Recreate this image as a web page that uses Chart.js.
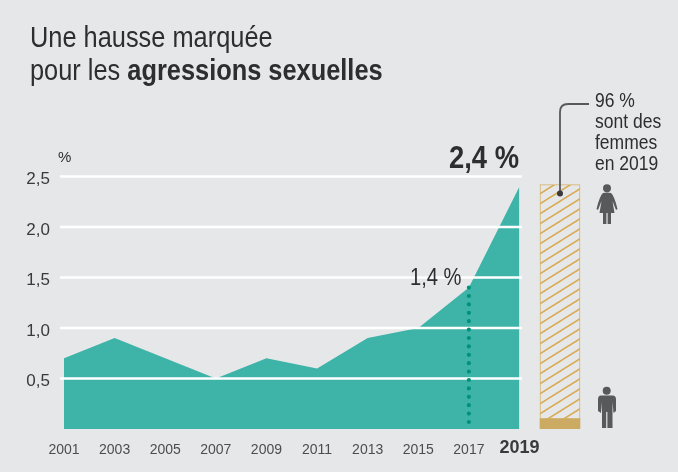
<!DOCTYPE html>
<html lang="fr">
<head>
<meta charset="utf-8">
<script src="https://cdn.jsdelivr.net/npm/chart.js@4/dist/chart.umd.min.js"></script>
<style>
  html, body { margin: 0; padding: 0; background: #e6e7e9; }
  #page { position: relative; width: 678px; height: 472px; overflow: hidden; font-family: "Liberation Sans", Arial, sans-serif; color: #2e2e30; }
  canvas { position: absolute; top: 0; }
  .txt { position: absolute; white-space: nowrap; transform-origin: left top; transform: scaleX(0.875); }
  svg { position: absolute; left: 0; top: 0; }
</style>
</head>
<body>
<div id="page">
  <canvas id="areaChart" width="678" height="472" style="left:0"></canvas>
  <canvas id="barChart" width="60" height="472" style="left:530px"></canvas>
  <svg width="678" height="472">
    <path d="M589 104 H568 Q560 104 560 112 V193" fill="none" stroke="#58595b" stroke-width="1.8"/>
    <circle cx="560" cy="193.5" r="3" fill="#3a3a3c"/>
    <!-- femme -->
    <g fill="#58595b">
      <circle cx="607" cy="188.3" r="4"/>
      <path d="M603 193 Q607 192 611 193 Q614 195 617.5 209 L616 210 L612.5 201 L614.5 213 H611 V224 H607.6 V213 H606.4 V224 H603 V213 H599.5 L601.5 201 L598 210 L596.5 209 Q600 195 603 193 Z"/>
    </g>
    <!-- homme -->
    <g fill="#58595b">
      <circle cx="606.7" cy="390.7" r="4"/>
      <path d="M601 395.5 H612.5 Q616 395.5 616 399.5 V411 L613.5 413 L612.5 402 V428 H607.4 V412 H606.2 V428 H602 V402 L601 413 L598 411 V399.5 Q598 395.5 601 395.5 Z"/>
    </g>
  </svg>
  <div class="txt" style="left:30px;top:21px;font-size:29px;line-height:33px">Une hausse marquée<br>pour les <b>agressions sexuelles</b></div>
  <div class="txt" style="left:58px;top:148px;font-size:15px;transform:none">%</div>
  <div class="txt" style="left:449px;top:138.5px;font-size:32px;font-weight:bold;transform:scaleX(0.855)">2,4 %</div>
  <div class="txt" style="left:410px;top:264px;font-size:23px">1,4 %</div>
  <div class="txt" style="left:595px;top:90px;font-size:20px;line-height:21px">96 %<br>sont des<br>femmes<br>en 2019</div>
</div>
<script>
// donnees
var years = ["2001", "2003", "2005", "2007", "2009", "2011", "2013", "2015", "2017", "2019"];
var rates = [0.7, 0.9, 0.7, 0.5, 0.7, 0.6, 0.9, 1.0, 1.4, 2.4];
var yTicks = [0.5, 1.0, 1.5, 2.0, 2.5];
var dottedYear = "2017";
var dottedValue = 1.4;
var barLabels = ["2019"];
var menPart = [0.1];
var womenPart = [2.32];

var bg = "#e6e7e9";
var teal = "#3eb4a9";
var gold = "#cdaa62";

// lignes blanches par-dessus l'aire + pointilles de 2017
var overlay = {
  id: "overlay",
  afterDatasetsDraw: function (chart) {
    var c = chart.ctx, y = chart.scales.y, x = chart.scales.x, a = chart.chartArea;
    c.save();
    c.strokeStyle = "#fff";
    c.lineWidth = 2.4;
    yTicks.forEach(function (t) {
      var py = y.getPixelForValue(t);
      c.beginPath();
      c.moveTo(a.left - 4, py);
      c.lineTo(a.right + 2.5, py);
      c.stroke();
    });
    var px = x.getPixelForValue(years.indexOf(dottedYear));
    c.strokeStyle = "#00907c";
    c.lineWidth = 4.2;
    c.lineCap = "round";
    c.setLineDash([0, 8.4]);
    c.beginPath();
    c.moveTo(px, y.getPixelForValue(dottedValue));
    c.lineTo(px, y.getPixelForValue(0));
    c.stroke();
    c.restore();
  }
};

new Chart(document.getElementById("areaChart").getContext("2d"), {
  type: "line",
  data: {
    labels: years,
    datasets: [{
      data: rates,
      fill: "origin",
      backgroundColor: teal,
      borderWidth: 0,
      pointRadius: 0,
      tension: 0
    }]
  },
  options: {
    responsive: false,
    animation: false,
    layout: { padding: { left: 0, right: 158.5, top: 176.5, bottom: 0 } },
    plugins: { legend: { display: false }, tooltip: { enabled: false } },
    scales: {
      x: {
        afterFit: function (s) { s.height = 43; },
        grid: { display: false, drawTicks: false },
        border: { display: false },
        ticks: {
          autoSkip: false,
          maxRotation: 0,
          crossAlign: "center",
          padding: 19,
          color: function (ctx) { return ctx.index === 9 ? "#3a3a3c" : "#4d4d4f"; },
          font: function (ctx) {
            return ctx.index === 9
              ? { family: "Liberation Sans", size: 18, weight: "bold" }
              : { family: "Liberation Sans", size: 14 };
          }
        }
      },
      y: {
        min: 0,
        max: 2.5,
        afterFit: function (s) { s.width = 64; },
        afterBuildTicks: function (s) { s.ticks = yTicks.map(function (v) { return { value: v }; }); },
        grid: { display: false, drawTicks: false },
        border: { display: false },
        ticks: {
          padding: 14,
          labelOffset: 3,
          color: "#3a3a3c",
          font: { family: "Liberation Sans", size: 17 },
          callback: function (v) { return v.toFixed(1).replace(".", ","); }
        }
      }
    }
  },
  plugins: [overlay]
});

// motif hachure de la barre
function hatch() {
  var t = document.createElement("canvas");
  t.width = 16;
  t.height = 10;
  var c = t.getContext("2d");
  c.fillStyle = bg;
  c.fillRect(0, 0, 16, 10);
  c.strokeStyle = "#d8ab52";
  c.lineWidth = 1.5;
  c.beginPath();
  c.moveTo(-16, 20); c.lineTo(32, -10);
  c.moveTo(-16, 10); c.lineTo(16, -10);
  c.moveTo(0, 20); c.lineTo(32, 0);
  c.stroke();
  return c.createPattern(t, "repeat");
}

var barCtx = document.getElementById("barChart").getContext("2d");
new Chart(barCtx, {
  type: "bar",
  data: {
    labels: barLabels,
    datasets: [
      { data: menPart, backgroundColor: gold, barThickness: 40, borderSkipped: false, borderWidth: 0 },
      { data: womenPart, backgroundColor: hatch(), barThickness: 40, borderColor: "#d6b46c", borderWidth: 1, borderSkipped: false }
    ]
  },
  options: {
    responsive: false,
    animation: false,
    layout: { padding: { left: 0, right: 0, top: 176.5, bottom: 43 } },
    plugins: { legend: { display: false }, tooltip: { enabled: false } },
    scales: {
      x: { stacked: true, display: false },
      y: { stacked: true, display: false, min: 0, max: 2.5 }
    }
  }
});
</script>
</body>
</html>
